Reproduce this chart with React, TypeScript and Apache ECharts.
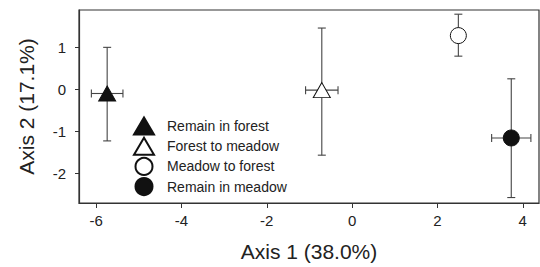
import React, { useEffect, useRef } from "react";
import * as echarts from "echarts";

const groups = ["Remain in forest", "Forest to meadow", "Meadow to forest", "Remain in meadow"];
const axis1 = [-5.74, -0.71, 2.49, 3.73];
const axis2 = [-0.1, -0.02, 1.28, -1.16];
const axis1Low = [-6.11, -1.09, 2.49, 3.27];
const axis1High = [-5.37, -0.33, 2.49, 4.19];
const axis2Low = [-1.23, -1.57, 0.79, -2.58];
const axis2High = [1.0, 1.46, 1.79, 0.25];
const symbols = ["triangle", "triangle", "circle", "circle"];
const fills = ["#111111", "#ffffff", "#ffffff", "#111111"];
const xTicks = [-6, -4, -2, 0, 2, 4];
const yTicks = [-2, -1, 0, 1];

const FONT = "Liberation Sans";

export default function App() {
  const ref = useRef<HTMLDivElement>(null);
  useEffect(() => {
    const chart = echarts.init(ref.current!, null, { renderer: "svg" });
    const errData = groups.map((g, i) => [axis1[i], axis2[i], axis1Low[i], axis1High[i], axis2Low[i], axis2High[i]]);
    const cap = 4;
    const lineStyle = { stroke: "#444", lineWidth: 1.1 };
    const option: any = {
      animation: false,
      textStyle: { fontFamily: FONT },
      grid: { left: 79, right: 1, top: 10, bottom: 62, show: true, borderColor: "#333", borderWidth: 1.2, containLabel: false },
      xAxis: {
        type: "value",
        min: -6.4,
        max: 4.38,
        name: "Axis 1 (38.0%)",
        nameLocation: "middle",
        nameGap: 38,
        nameTextStyle: { fontSize: 21, color: "#222", fontFamily: FONT },
        splitLine: { show: false },
        axisLine: { show: true, onZero: false, lineStyle: { color: "#333", width: 1.2 } },
        axisTick: { show: true, length: 5, customValues: xTicks, lineStyle: { color: "#333" } },
        axisLabel: { customValues: xTicks, fontSize: 15, color: "#222", margin: 10, fontFamily: FONT },
      },
      yAxis: {
        type: "value",
        min: -2.71,
        max: 1.89,
        name: "Axis 2 (17.1%)",
        nameLocation: "middle",
        nameGap: 42,
        nameTextStyle: { fontSize: 21, color: "#222", fontFamily: FONT },
        splitLine: { show: false },
        axisLine: { show: true, onZero: false, lineStyle: { color: "#333", width: 1.2 } },
        axisTick: { show: true, length: 4, customValues: yTicks, lineStyle: { color: "#333" } },
        axisLabel: { customValues: yTicks, fontSize: 15, color: "#222", margin: 13, fontFamily: FONT },
      },
      legend: {
        orient: "vertical",
        left: 128,
        top: 111.5,
        itemWidth: 20,
        itemHeight: 17,
        itemGap: 1.2,
        data: groups,
        textStyle: { fontSize: 14, color: "#222", fontFamily: FONT, padding: [0, 0, 0, 8] },
      },
      series: [
        {
          type: "custom",
          name: "errors",
          z: 1,
          silent: true,
          data: errData,
          encode: { x: 0, y: 1 },
          renderItem: (params: any, api: any) => {
            const c = api.coord([api.value(0), api.value(1)]);
            const xl = api.coord([api.value(2), api.value(1)]);
            const xh = api.coord([api.value(3), api.value(1)]);
            const yl = api.coord([api.value(0), api.value(4)]);
            const yh = api.coord([api.value(0), api.value(5)]);
            const children: any[] = [
              { type: "line", shape: { x1: c[0], y1: yl[1], x2: c[0], y2: yh[1] }, style: lineStyle },
              { type: "line", shape: { x1: c[0] - cap, y1: yl[1], x2: c[0] + cap, y2: yl[1] }, style: lineStyle },
              { type: "line", shape: { x1: c[0] - cap, y1: yh[1], x2: c[0] + cap, y2: yh[1] }, style: lineStyle },
            ];
            if (Math.abs(xh[0] - xl[0]) > 1) {
              children.push(
                { type: "line", shape: { x1: xl[0], y1: c[1], x2: xh[0], y2: c[1] }, style: lineStyle },
                { type: "line", shape: { x1: xl[0], y1: c[1] - cap, x2: xl[0], y2: c[1] + cap }, style: lineStyle },
                { type: "line", shape: { x1: xh[0], y1: c[1] - cap, x2: xh[0], y2: c[1] + cap }, style: lineStyle }
              );
            }
            return { type: "group", children };
          },
        },
        ...groups.map((g, i) => ({
          type: "scatter",
          name: g,
          z: 3,
          symbol: symbols[i],
          symbolSize: symbols[i] === "triangle" ? [17, 15] : 16,
          itemStyle: { color: fills[i], borderColor: "#111", borderWidth: 1, opacity: 1 },
          data: [[axis1[i], axis2[i]]],
        })),
      ],
    };
    chart.setOption(option);
    return () => chart.dispose();
  }, []);
  return <div ref={ref} style={{ width: 540, height: 267, position: "absolute", left: 0, top: 0 }} />;
}
